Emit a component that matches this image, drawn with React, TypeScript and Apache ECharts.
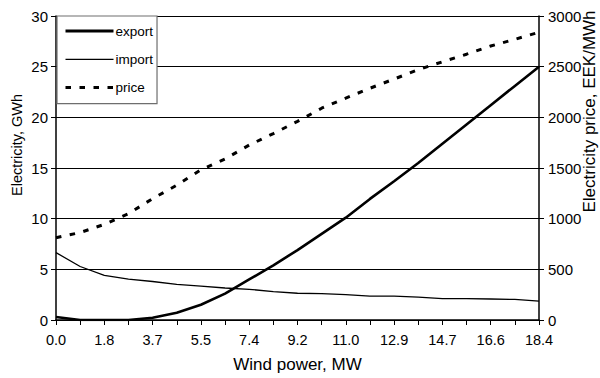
import React, { useEffect, useRef } from "react";
import * as echarts from "echarts";

// Wind power steps, MW (every other one is labelled on the axis)
const windPower = [
  "0.0", "0.9", "1.8", "2.8", "3.7", "4.6", "5.5", "6.4", "7.4", "8.3", "9.2",
  "10.1", "11.0", "12.0", "12.9", "13.8", "14.7", "15.6", "16.6", "17.5", "18.4",
];

// Electricity export, GWh
const exportGWh = [
  0.3, 0.0, 0.0, 0.0, 0.22, 0.71, 1.5, 2.6, 4.0, 5.4, 6.9,
  8.5, 10.1, 11.95, 13.7, 15.5, 17.4, 19.3, 21.2, 23.1, 25.0,
];

// Electricity import, GWh
const importGWh = [
  6.65, 5.28, 4.4, 4.04, 3.8, 3.52, 3.35, 3.16, 3.03, 2.8, 2.64,
  2.6, 2.5, 2.35, 2.35, 2.25, 2.1, 2.1, 2.07, 2.03, 1.86,
];

// Electricity price, EEK/MWh
const priceEEK = [
  812, 863, 944, 1049, 1198, 1330, 1482, 1590, 1726, 1840, 1960,
  2090, 2190, 2287, 2378, 2470, 2548, 2623, 2704, 2770, 2840,
];

const FONT = "'Liberation Sans', Arial, Helvetica, sans-serif";

export default function App() {
  const ref = useRef<HTMLDivElement>(null);

  useEffect(() => {
    if (!ref.current) return;
    const chart = echarts.init(ref.current, undefined, { renderer: "svg" });

    chart.setOption({
      animation: false,
      backgroundColor: "#ffffff",
      textStyle: { fontFamily: FONT, color: "#000" },
      grid: { left: 56, right: 61, top: 16, bottom: 55, containLabel: false },
      legend: {
        orient: "vertical",
        left: 57,
        top: 16,
        padding: [8, 4, 9, 7],
        itemWidth: 48,
        itemHeight: 14,
        itemGap: 14.3,
        backgroundColor: "#ffffff",
        borderColor: "#6e6e6e",
        borderWidth: 1.2,
        borderRadius: 0,
        itemStyle: { color: "rgba(0,0,0,0)", borderWidth: 0, borderColor: "rgba(0,0,0,0)" },
        textStyle: { fontFamily: FONT, fontSize: 13.5, color: "#000", padding: [0, 0, 0, -3] },
        data: [
          { name: "export", lineStyle: { width: 2.8 } },
          { name: "import", lineStyle: { width: 1.3 } },
          { name: "price", lineStyle: { width: 3 } },
        ],
      },
      xAxis: {
        type: "category",
        data: windPower,
        boundaryGap: false,
        name: "Wind power, MW",
        nameLocation: "middle",
        nameGap: 36,
        nameTextStyle: { fontFamily: FONT, fontSize: 17, color: "#000" },
        axisLine: { show: true, lineStyle: { color: "#000", width: 1.5 } },
        axisTick: { show: true, interval: 0, length: 5, lineStyle: { color: "#000", width: 1 } },
        axisLabel: { interval: 1, margin: 12, fontFamily: FONT, fontSize: 14.5, color: "#000" },
        splitLine: { show: false },
      },
      yAxis: [
        {
          type: "value",
          min: 0,
          max: 30,
          interval: 5,
          axisLine: { show: true, lineStyle: { color: "#000", width: 1.5 } },
          axisTick: { show: true, length: 5, lineStyle: { color: "#000", width: 1 } },
          axisLabel: {
            margin: 8,
            fontFamily: FONT,
            fontSize: 15,
            color: "#000",
            formatter: (v: number) => String(v),
          },
          splitLine: { show: true, lineStyle: { color: "#000", width: 1 } },
        },
        {
          type: "value",
          position: "right",
          min: 0,
          max: 3000,
          interval: 500,
          axisLine: { show: true, lineStyle: { color: "#000", width: 1.5 } },
          axisTick: { show: true, length: 5, lineStyle: { color: "#000", width: 1 } },
          axisLabel: {
            margin: 9,
            fontFamily: FONT,
            fontSize: 15,
            color: "#000",
            formatter: (v: number) => String(v),
          },
          splitLine: { show: false },
        },
      ],
      graphic: [
        {
          type: "text",
          x: 16.5,
          y: 145,
          rotation: Math.PI / 2,
          style: {
            text: "Electricity, GWh",
            fontFamily: FONT,
            fontSize: 14.5,
            fill: "#000",
            align: "center",
            verticalAlign: "middle",
          },
        },
        {
          type: "text",
          x: 589.5,
          y: 111.5,
          rotation: Math.PI / 2,
          style: {
            text: "Electricity price, EEK/MWh",
            fontFamily: FONT,
            fontSize: 17,
            fill: "#000",
            align: "center",
            verticalAlign: "middle",
          },
        },
      ],
      series: [
        {
          name: "export",
          type: "line",
          data: exportGWh,
          yAxisIndex: 0,
          symbol: "none",
          lineStyle: { color: "#000", width: 2.6 },
          itemStyle: { color: "#000" },
          z: 3,
        },
        {
          name: "import",
          type: "line",
          data: importGWh,
          yAxisIndex: 0,
          symbol: "none",
          lineStyle: { color: "#000", width: 1.3 },
          itemStyle: { color: "#000" },
          z: 3,
        },
        {
          name: "price",
          type: "line",
          data: priceEEK,
          yAxisIndex: 1,
          symbol: "none",
          lineStyle: { color: "#000", width: 3, type: [5.5, 8.5], cap: "butt" },
          itemStyle: { color: "#000" },
          z: 3,
        },
      ],
    });

    return () => chart.dispose();
  }, []);

  return (
    <div
      ref={ref}
      style={{ position: "fixed", left: 0, top: 0, width: 600, height: 378, background: "#fff" }}
    />
  );
}
